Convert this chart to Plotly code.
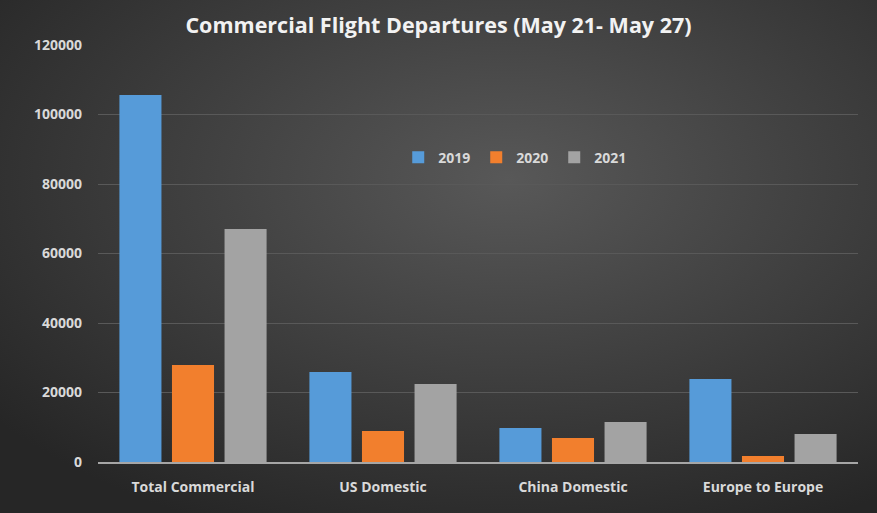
import plotly.graph_objects as go
import base64

categories = ["Total Commercial", "US Domestic", "China Domestic", "Europe to Europe"]
values_2019 = [105600, 25900, 9800, 23900]
values_2020 = [27900, 8900, 6900, 1700]
values_2021 = [67050, 22450, 11500, 8050]
series_names = ["2019", "2020", "2021"]
y_ticks = [0, 20000, 40000, 60000, 80000, 100000, 120000]

colors = ["#569bd9", "#f27f2d", "#a3a3a3"]

W, H = 877, 513
L, R, T, B = 98, 19, 45, 51
pw, ph = W - L - R, H - T - B

svg = f'''<svg xmlns="http://www.w3.org/2000/svg" width="{W}" height="{H}">
<defs><radialGradient id="g" cx="58%" cy="35%" r="75%">
<stop offset="0" stop-color="#585858"/><stop offset="1" stop-color="#262626"/>
</radialGradient></defs>
<rect width="{W}" height="{H}" fill="url(#g)"/></svg>'''
src = "data:image/svg+xml;base64," + base64.b64encode(svg.encode()).decode()

fig = go.Figure()
for name, vals, c in zip(series_names, [values_2019, values_2020, values_2021], colors):
    fig.add_trace(go.Bar(x=categories, y=vals, name=name, marker=dict(color=c, line=dict(width=0))))

fig.update_layout(
    width=W, height=H,
    margin=dict(l=L, r=R, t=T, b=B),
    paper_bgcolor="#333333",
    plot_bgcolor="rgba(0,0,0,0)",
    barmode="group", bargap=0.17, bargroupgap=0.2,
    title=dict(text="<b>Commercial Flight Departures (May 21- May 27)</b>",
               x=0.5, xanchor="center", y=1 - 25 / H, yanchor="middle",
               font=dict(family="Open Sans", size=21.5, color="#f2f2f2")),
    font=dict(family="Open Sans", color="#d9d9d9"),
    showlegend=True,
    legend=dict(orientation="h", x=0.549, xanchor="center", y=0.73, yanchor="middle",
                font=dict(size=14, color="#d9d9d9", family="Open Sans", weight="bold"),
                bgcolor="rgba(0,0,0,0)", itemwidth=30, traceorder="normal",
                entrywidth=33, entrywidthmode="pixels"),
    images=[dict(source=src, xref="paper", yref="paper",
                 x=-L / pw, y=1 + T / ph, sizex=W / pw, sizey=H / ph,
                 xanchor="left", yanchor="top", sizing="stretch", layer="below")],
)
fig.update_yaxes(range=[0, 120000], tickvals=y_ticks, ticktext=[str(v) for v in y_ticks],
                 showgrid=True, gridcolor="#595959", gridwidth=1,
                 zeroline=False, showline=False, ticks="",
                 tickfont=dict(size=14, color="#d9d9d9", family="Open Sans", weight="bold"),
                 ticklabelstandoff=15)
fig.update_xaxes(showline=True, linecolor="#a6a6a6", linewidth=1.5, ticks="",
                 tickfont=dict(size=14, color="#d9d9d9", family="Open Sans", weight="bold"),
                 ticklabelstandoff=11)

fig.write_html("out.html", config={"displayModeBar": False},
               post_script="document.body.style.margin='0';")
